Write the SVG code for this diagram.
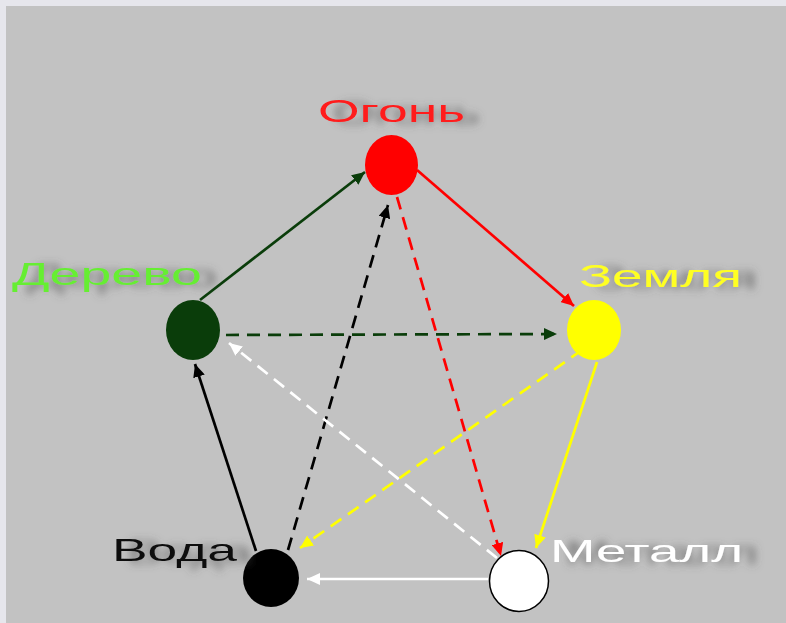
<svg xmlns="http://www.w3.org/2000/svg" width="786" height="623" viewBox="0 0 786 623">
<defs>
<style>
.lbl{font-family:"Liberation Sans",Arial,sans-serif;font-size:32px;filter:url(#sh)}
.ln{stroke-width:2.7;fill:none}
.dash{stroke-dasharray:13 8}
</style>
<filter id="sh" x="-20%" y="-50%" width="150%" height="200%">
<feGaussianBlur in="SourceAlpha" stdDeviation="4.5"/>
<feOffset dx="15" dy="2" result="b"/>
<feFlood flood-color="#505050" flood-opacity="0.7"/>
<feComposite in2="b" operator="in" result="s"/>
<feMerge><feMergeNode in="s"/><feMergeNode in="SourceGraphic"/></feMerge>
</filter>
<marker id="aG" markerUnits="userSpaceOnUse" markerWidth="14" markerHeight="12" refX="13" refY="6" orient="auto"><path d="M0,0 L13,6 L0,12 z" fill="#0a3d0a"/></marker>
<marker id="aR" markerUnits="userSpaceOnUse" markerWidth="14" markerHeight="12" refX="13" refY="6" orient="auto"><path d="M0,0 L13,6 L0,12 z" fill="#ff0000"/></marker>
<marker id="aY" markerUnits="userSpaceOnUse" markerWidth="14" markerHeight="12" refX="13" refY="6" orient="auto"><path d="M0,0 L13,6 L0,12 z" fill="#ffff00"/></marker>
<marker id="aW" markerUnits="userSpaceOnUse" markerWidth="14" markerHeight="12" refX="13" refY="6" orient="auto"><path d="M0,0 L13,6 L0,12 z" fill="#ffffff"/></marker>
<marker id="aK" markerUnits="userSpaceOnUse" markerWidth="14" markerHeight="12" refX="13" refY="6" orient="auto"><path d="M0,0 L13,6 L0,12 z" fill="#000000"/></marker>
</defs>
<rect x="0" y="0" width="786" height="623" fill="#e6e6ec"/>
<rect x="6" y="6" width="780" height="617" fill="#c2c2c2"/>
<g id="connectors">
<line class="ln" x1="200" y1="300" x2="365" y2="172" stroke="#0a3d0a" marker-end="url(#aG)"/>
<line class="ln" x1="417" y1="170" x2="574" y2="306" stroke="#ff0000" marker-end="url(#aR)"/>
<line class="ln" x1="597" y1="362" x2="536" y2="548" stroke="#ffff00" marker-end="url(#aY)"/>
<line class="ln" x1="488" y1="579" x2="307" y2="579" stroke="#ffffff" marker-end="url(#aW)"/>
<line class="ln" x1="256" y1="551" x2="195" y2="364" stroke="#000000" marker-end="url(#aK)"/>
<line class="ln dash" x1="226" y1="335" x2="557" y2="334" stroke="#0a3d0a" marker-end="url(#aG)"/>
<line class="ln dash" x1="582" y1="350" x2="300" y2="548" stroke="#ffff00" marker-end="url(#aY)"/>
<line class="ln dash" x1="288" y1="550" x2="388" y2="205" stroke="#000000" marker-end="url(#aK)"/>
<line class="ln dash" x1="397" y1="197" x2="501" y2="556" stroke="#ff0000" marker-end="url(#aR)"/>
<line class="ln dash" x1="497" y1="558" x2="229" y2="343" stroke="#ffffff" marker-end="url(#aW)"/>
</g>
<g id="fire">
<ellipse cx="391.5" cy="165" rx="26.5" ry="30" fill="#ff0000"/>
<text class="lbl" x="318" y="122" fill="#ff1a1a" textLength="147" lengthAdjust="spacingAndGlyphs">Огонь</text>
</g>
<g id="wood">
<ellipse cx="193" cy="330" rx="27" ry="30" fill="#0a3d0a"/>
<text class="lbl" x="12" y="285" fill="#66ee33" textLength="190" lengthAdjust="spacingAndGlyphs">Дерево</text>
</g>
<g id="earth">
<ellipse cx="594" cy="330" rx="27" ry="30" fill="#ffff00"/>
<text class="lbl" x="579" y="287" fill="#ffff22" textLength="163" lengthAdjust="spacingAndGlyphs">Земля</text>
</g>
<g id="water">
<ellipse cx="271" cy="578" rx="28" ry="29" fill="#000000"/>
<text class="lbl" x="112" y="561" fill="#111111" textLength="125" lengthAdjust="spacingAndGlyphs">Вода</text>
</g>
<g id="metal">
<ellipse cx="519" cy="581" rx="29.5" ry="30.5" fill="#ffffff" stroke="#000000" stroke-width="1.5"/>
<text class="lbl" x="550" y="562" fill="#ffffff" textLength="193" lengthAdjust="spacingAndGlyphs">Металл</text>
</g>
</svg>
